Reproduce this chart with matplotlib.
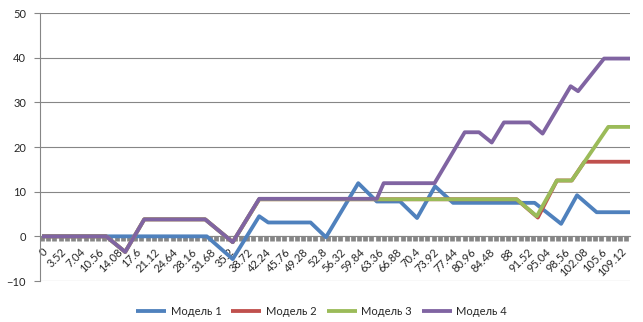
import matplotlib
matplotlib.use("Agg")
import matplotlib.pyplot as plt
from matplotlib.ticker import MultipleLocator, FixedLocator

# Figure size (inches) at 100 dpi -> 643x322 px
FIG_SIZE_X_INCHES = 6.43
FIG_SIZE_Y_INCHES = 3.22
FONT_SIZE = 8
FONT_CHOICE = "Lato"
LINE_WIDTH = 2.75
GRID_COLOR = "#868686"
TEXT_COLOR = "#262626"

# Series breakpoints (x = category value, y = value)
model1_x = [0, 31.1, 36.0, 41.0, 42.7, 50.7, 53.6, 59.7, 63.2, 67.6, 70.8, 74.2, 77.6, 93.0, 98.0, 101.0, 104.7, 111.0]
model1_y = [0, 0, -5.1, 4.5, 3.1, 3.1, -0.2, 11.9, 7.8, 7.8, 4.1, 11.2, 7.5, 7.5, 2.8, 9.2, 5.4, 5.4]

model2_x = [0, 12.1, 15.7, 19.3, 30.8, 36.0, 41.0, 89.6, 93.6, 97.2, 100.0, 102.4, 111.0]
model2_y = [0, 0, -3.5, 3.8, 3.8, -1.3, 8.3, 8.3, 4.2, 12.5, 12.5, 16.7, 16.7]

model3_x = [0, 12.1, 15.7, 19.3, 30.8, 36.0, 41.0, 89.6, 93.4, 97.2, 100.0, 106.9, 111.0]
model3_y = [0, 0, -3.5, 3.8, 3.8, -1.3, 8.3, 8.3, 4.5, 12.5, 12.5, 24.5, 24.5]

model4_x = [0, 12.1, 15.7, 19.3, 30.8, 36.0, 41.0, 63.2, 64.5, 74.1, 79.8, 82.5, 84.9, 87.2, 92.1, 94.5, 99.8, 101.2, 106.1, 111.0]
model4_y = [0, 0, -3.5, 3.8, 3.8, -1.3, 8.4, 8.4, 11.9, 11.9, 23.3, 23.3, 21.0, 25.5, 25.5, 23.0, 33.6, 32.5, 39.8, 39.8]

series_names = ["Модель 1", "Модель 2", "Модель 3", "Модель 4"]
series_colors = ["#4F81BD", "#C0504D", "#9BBB59", "#8064A2"]

x_tick_labels = ["0", "3.52", "7.04", "10.56", "14.08", "17.6", "21.12", "24.64", "28.16",
                 "31.68", "35.2", "38.72", "42.24", "45.76", "49.28", "52.8", "56.32",
                 "59.84", "63.36", "66.88", "70.4", "73.92", "77.44", "80.96", "84.48",
                 "88", "91.52", "95.04", "98.56", "102.08", "105.6", "109.12"]
y_ticks = [-10, 0, 10, 20, 30, 40, 50]

plt.rcParams['font.family'] = [FONT_CHOICE, 'DejaVu Sans']
plt.rcParams['font.size'] = FONT_SIZE

fig = plt.figure(figsize=(FIG_SIZE_X_INCHES, FIG_SIZE_Y_INCHES), dpi=100)
ax = fig.add_axes([40 / 643, 41 / 322, 590 / 643, 268 / 322])

all_x = [model1_x, model2_x, model3_x, model4_x]
all_y = [model1_y, model2_y, model3_y, model4_y]
for xs, ys, name, col in zip(all_x, all_y, series_names, series_colors):
    ax.plot(xs, ys, color=col, linewidth=LINE_WIDTH, label=name, solid_capstyle='butt', zorder=3)

ax.set_xlim(-0.38, 111.0)
ax.set_ylim(-10, 50)

# Horizontal gridlines
ax.set_yticks(y_ticks)
ax.yaxis.grid(True, color=GRID_COLOR, linewidth=0.8)
ax.set_axisbelow(True)

# Category axis crossing at zero
ax.spines['bottom'].set_position(('data', 0))
ax.spines['bottom'].set_color(GRID_COLOR)
ax.spines['bottom'].set_linewidth(0.8)
ax.spines['left'].set_color(GRID_COLOR)
ax.spines['left'].set_linewidth(0.8)
ax.spines['top'].set_visible(False)
ax.spines['right'].set_visible(False)

x_ticks = [float(s) for s in x_tick_labels]
ax.xaxis.set_major_locator(FixedLocator(x_ticks))
ax.set_xticklabels(x_tick_labels, rotation=45, ha='right', va='top', rotation_mode='anchor',
                   color=TEXT_COLOR)
ax.xaxis.set_minor_locator(MultipleLocator(3.52 / 3))
ax.tick_params(axis='x', which='both', direction='out', length=3.6, width=3.4, color=GRID_COLOR, pad=3.5)
ax.tick_params(axis='y', which='major', direction='out', length=4, width=0.8, color=GRID_COLOR,
               labelcolor=TEXT_COLOR, pad=6)

fig.legend(loc='center', bbox_to_anchor=(0.5, 0.034), ncol=4, frameon=False,
           handlelength=2.7, handletextpad=0.4, columnspacing=0.9,
           labelcolor=TEXT_COLOR, fontsize=FONT_SIZE)

fig.savefig("out.png", dpi=100)
